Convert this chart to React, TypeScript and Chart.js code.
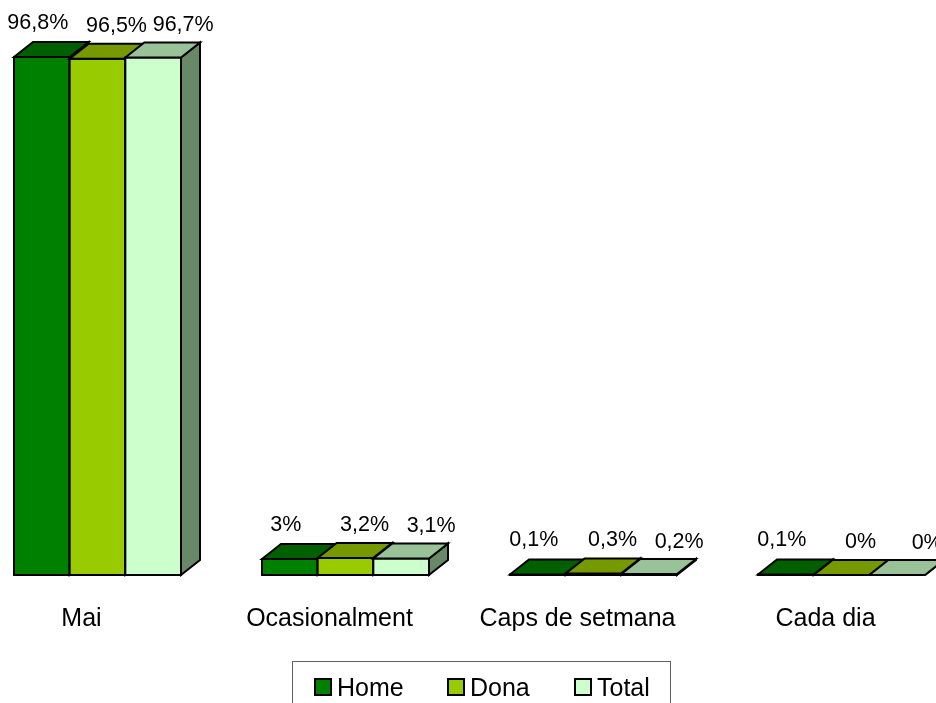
import React, { useEffect, useRef } from "react";
import { Chart, registerables } from "chart.js";

Chart.register(...registerables);

// ---- data ----
const categories = ["Mai", "Ocasionalment", "Caps de setmana", "Cada dia"];
const seriesNames = ["Home", "Dona", "Total"];
const homeValues = [96.8, 3, 0.1, 0.1];
const donaValues = [96.5, 3.2, 0.3, 0];
const totalValues = [96.7, 3.1, 0.2, 0];

// ---- styles ----
const frontColors = ["#008000", "#99CC00", "#CCFFCC"];
const topColors = ["#006000", "#779900", "#99C299"];
const sideColors = ["#005800", "#739900", "#688868"];
const FONT = "'Liberation Sans', Arial, Helvetica, sans-serif";
const DEPTH_X = 19;
const DEPTH_Y = 15;
const labelShiftX = [-4, 19, 30];
const labelShiftY = [-34, -33, -32];
const legendLeft = [21, 154, 281];

const fmt = (v: number) => String(v).replace(".", ",") + "%";

const bars3d = {
  id: "bars3d",
  beforeDatasetsDraw(chart: any) {
    const ctx = chart.ctx as CanvasRenderingContext2D;
    const n = chart.data.labels.length;
    const nd = chart.data.datasets.length;
    ctx.save();
    ctx.lineWidth = 2;
    ctx.strokeStyle = "#000";
    ctx.lineJoin = "miter";
    for (let j = 0; j < n; j++) {
      for (let i = 0; i < nd; i++) {
        const el = chart.getDatasetMeta(i).data[j];
        const { x, y, base, width } = el.getProps(["x", "y", "base", "width"], true);
        const L = x - width / 2;
        const R = x + width / 2;
        // front face
        ctx.fillStyle = frontColors[i];
        ctx.beginPath();
        ctx.rect(L, y, width, base - y);
        ctx.fill();
        ctx.stroke();
        // side face
        ctx.fillStyle = sideColors[i];
        ctx.beginPath();
        ctx.moveTo(R, y);
        ctx.lineTo(R + DEPTH_X, y - DEPTH_Y);
        ctx.lineTo(R + DEPTH_X, base - DEPTH_Y);
        ctx.lineTo(R, base);
        ctx.closePath();
        ctx.fill();
        ctx.stroke();
        // top face
        ctx.fillStyle = topColors[i];
        ctx.beginPath();
        ctx.moveTo(L, y);
        ctx.lineTo(L + DEPTH_X, y - DEPTH_Y);
        ctx.lineTo(R + DEPTH_X, y - DEPTH_Y);
        ctx.lineTo(R, y);
        ctx.closePath();
        ctx.fill();
        ctx.stroke();
      }
    }
    // value labels
    ctx.fillStyle = "#000";
    ctx.font = "21.5px " + FONT;
    ctx.textAlign = "center";
    ctx.textBaseline = "middle";
    for (let i = 0; i < nd; i++) {
      const meta = chart.getDatasetMeta(i);
      const vals = chart.data.datasets[i].data as number[];
      meta.data.forEach((el: any, j: number) => {
        const { x, y } = el.getProps(["x", "y"], true);
        ctx.fillText(fmt(vals[j]), x + labelShiftX[i], y + labelShiftY[i]);
      });
    }
    ctx.restore();
    return false;
  },
};

export default function App() {
  const ref = useRef<HTMLCanvasElement | null>(null);

  useEffect(() => {
    if (!ref.current) return;
    const values = [homeValues, donaValues, totalValues];
    const chart = new Chart(ref.current, {
      type: "bar",
      data: {
        labels: categories,
        datasets: seriesNames.map((name, i) => ({
          label: name,
          data: values[i],
          backgroundColor: frontColors[i],
          borderColor: "#000",
          borderWidth: 0,
          barPercentage: 1,
          categoryPercentage: 0.6734,
        })),
      },
      options: {
        responsive: false,
        animation: false,
        devicePixelRatio: 1,
        layout: { padding: { left: 13.5, right: 24.5, top: 39.9, bottom: 0 } },
        plugins: {
          legend: { display: false },
          tooltip: { enabled: false },
        },
        scales: {
          x: {
            grid: { display: false },
            border: { display: false },
            ticks: {
              color: "#000",
              font: { size: 25, family: FONT },
              labelOffset: -16,
              padding: 21,
              maxRotation: 0,
              autoSkip: false,
            },
            afterFit: (s: any) => {
              s.height = 128;
            },
          },
          y: {
            display: false,
            min: 0,
            max: 100,
          },
        },
      },
      plugins: [bars3d],
    });
    return () => chart.destroy();
  }, []);

  return (
    <div
      style={{
        position: "absolute",
        left: 0,
        top: 0,
        width: 936,
        height: 703,
        overflow: "hidden",
        background: "#fff",
      }}
    >
      <canvas
        ref={ref}
        width={1030}
        height={703}
        style={{ position: "absolute", left: -40, top: 0, width: 1030, height: 703, display: "block" }}
      />
      <div
        style={{
          position: "absolute",
          left: 292,
          top: 661,
          width: 379,
          height: 60,
          border: "1px solid #606060",
          boxSizing: "border-box",
          fontFamily: FONT,
        }}
      >
        {seriesNames.map((name, i) => (
          <React.Fragment key={name}>
            <div
              style={{
                position: "absolute",
                left: legendLeft[i],
                top: 15.7,
                width: 18,
                height: 18,
                boxSizing: "border-box",
                border: "2px solid #000",
                background: frontColors[i],
              }}
            />
            <div
              style={{
                position: "absolute",
                left: legendLeft[i] + 23,
                top: 10,
                fontSize: 25,
                lineHeight: "30px",
                color: "#000",
                whiteSpace: "nowrap",
              }}
            >
              {name}
            </div>
          </React.Fragment>
        ))}
      </div>
    </div>
  );
}
